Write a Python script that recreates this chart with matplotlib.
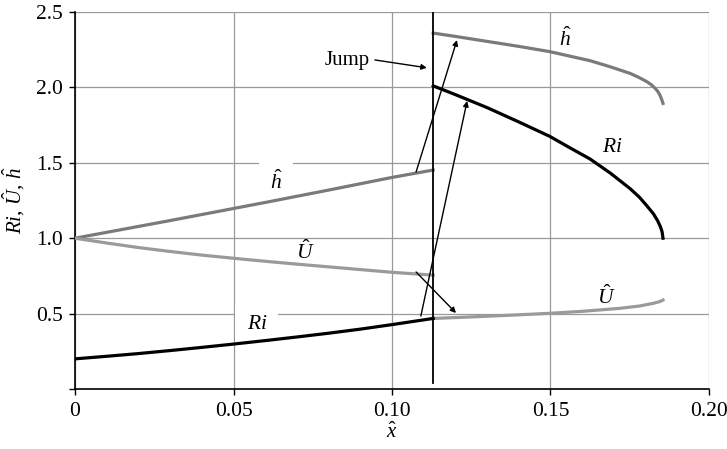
import matplotlib
matplotlib.use("Agg")
import matplotlib.pyplot as plt

plt.rcParams['font.family'] = ['Liberation Serif', 'DejaVu Serif']
plt.rcParams['mathtext.fontset'] = 'custom'
plt.rcParams['mathtext.rm'] = 'Liberation Serif'
plt.rcParams['mathtext.it'] = 'Liberation Serif:italic'

# Pre-jump branch
x_pre = [0.0, 0.01, 0.02, 0.03, 0.04, 0.05, 0.06, 0.07, 0.08, 0.09, 0.10, 0.113]
h_pre = [1.0, 1.039, 1.078, 1.117, 1.157, 1.197, 1.237, 1.278, 1.319, 1.361, 1.403, 1.452]
u_pre = [1.0, 0.968, 0.938, 0.912, 0.888, 0.867, 0.847, 0.828, 0.81, 0.792, 0.774, 0.755]
ri_pre = [0.20, 0.217, 0.235, 0.255, 0.276, 0.298, 0.321, 0.345, 0.370, 0.397, 0.427, 0.468]

# Post-jump branch
x_h_post = [0.113, 0.12, 0.13, 0.14, 0.1498, 0.1625, 0.1688, 0.1751, 0.178, 0.1804,
            0.1818, 0.183, 0.1838, 0.1845, 0.185, 0.1855]
h_post = [2.36, 2.338, 2.305, 2.272, 2.237, 2.177, 2.137, 2.093, 2.065, 2.038,
          2.018, 1.994, 1.975, 1.95, 1.925, 1.894]
x_u_post = [0.113, 0.125, 0.138, 0.1498, 0.16, 0.1719, 0.178, 0.1824, 0.1845, 0.1855]
u_post = [0.468, 0.478, 0.49, 0.502, 0.515, 0.535, 0.55, 0.568, 0.58, 0.59]
x_ri_post = [0.113, 0.12, 0.13, 0.14, 0.1498, 0.156, 0.1625, 0.1688, 0.1751, 0.178,
             0.1804, 0.1825, 0.1838, 0.1847, 0.1852, 0.1855]
ri_post = [2.01, 1.952, 1.866, 1.771, 1.675, 1.601, 1.525, 1.433, 1.329, 1.273,
           1.215, 1.161, 1.116, 1.075, 1.043, 1.0]

x_jump = 0.113
xticks = [0, 0.05, 0.10, 0.15, 0.20]
xticklabels = ['0', '0.05', '0.10', '0.15', '0.20']
yticks = [0.5, 1.0, 1.5, 2.0, 2.5]
yticklabels = ['0.5', '1.0', '1.5', '2.0', '2.5']

fig = plt.figure(figsize=(7.27, 4.49), dpi=100)
ax = fig.add_axes([0.1032, 0.1336, 0.872, 0.8397])
ax.set_xlim(0, 0.20)
ax.set_ylim(0, 2.5)

ax.set_xticks(xticks)
ax.set_xticklabels(xticklabels)
ax.set_yticks([0] + yticks)
ax.set_yticklabels([''] + yticklabels)
ax.tick_params(direction='out', length=4, width=1, labelsize=15.5, colors='black')
ax.tick_params(axis='x', pad=5)
ax.tick_params(axis='y', pad=5)
ax.grid(True, color='#999999', linewidth=0.9)
ax.set_axisbelow(True)
for s in ['top', 'right']:
    ax.spines[s].set_visible(False)
for s in ['left', 'bottom']:
    ax.spines[s].set_linewidth(1.2)

c_h = '#7a7a7a'
c_u = '#9a9a9a'
lw = 2.3
ax.plot(x_pre, h_pre, color=c_h, lw=lw, zorder=3)
ax.plot(x_h_post, h_post, color=c_h, lw=lw, zorder=3)
ax.plot(x_pre, u_pre, color=c_u, lw=lw, zorder=3)
ax.plot(x_u_post, u_post, color=c_u, lw=lw, zorder=3)
ax.plot(x_pre, ri_pre, color='black', lw=lw, zorder=3)
ax.plot(x_ri_post, ri_post, color='black', lw=lw, zorder=3)

ax.plot([x_jump, x_jump], [0.04, 2.5], color='black', lw=1.3, zorder=4)

bb = dict(facecolor='white', edgecolor='none', pad=8)
fs = 15.5
ax.text(0.0634, 1.37, r'$\hat{h}$', fontsize=fs, ha='center', va='center', bbox=bb, zorder=2)
ax.text(0.0726, 0.91, r'$\hat{U}$', fontsize=fs, ha='center', va='center', zorder=5)
ax.text(0.0574, 0.43, r'$Ri$', fontsize=fs, ha='center', va='center', bbox=bb, zorder=2)
ax.text(0.1546, 2.32, r'$\hat{h}$', fontsize=fs, ha='center', va='center', zorder=5)
ax.text(0.1694, 1.60, r'$Ri$', fontsize=fs, ha='center', va='center', zorder=5)
ax.text(0.1675, 0.61, r'$\hat{U}$', fontsize=fs, ha='center', va='center', zorder=5)
ax.text(0.0858, 2.18, 'Jump', fontsize=15, ha='center', va='center', zorder=5)

ap = dict(arrowstyle='-|>', color='black', lw=1.0, mutation_scale=8, shrinkA=0, shrinkB=0)
ax.annotate('', xy=(0.111, 2.13), xytext=(0.0946, 2.182), arrowprops=ap, zorder=6)
ax.annotate('', xy=(0.1205, 2.314), xytext=(0.1076, 1.439), arrowprops=ap, zorder=6)
ax.annotate('', xy=(0.1237, 1.91), xytext=(0.1091, 0.484), arrowprops=ap, zorder=6)
ax.annotate('', xy=(0.1202, 0.504), xytext=(0.1076, 0.776), arrowprops=ap, zorder=6)

ax.set_xlabel(r'$\hat{x}$', fontsize=15)
ax.set_ylabel(r'$Ri,\,\hat{U},\,\hat{h}$', fontsize=15)
ax.xaxis.set_label_coords(0.5, -0.09)
ax.yaxis.set_label_coords(-0.076, 0.5)

fig.savefig('out.png', dpi=100)
